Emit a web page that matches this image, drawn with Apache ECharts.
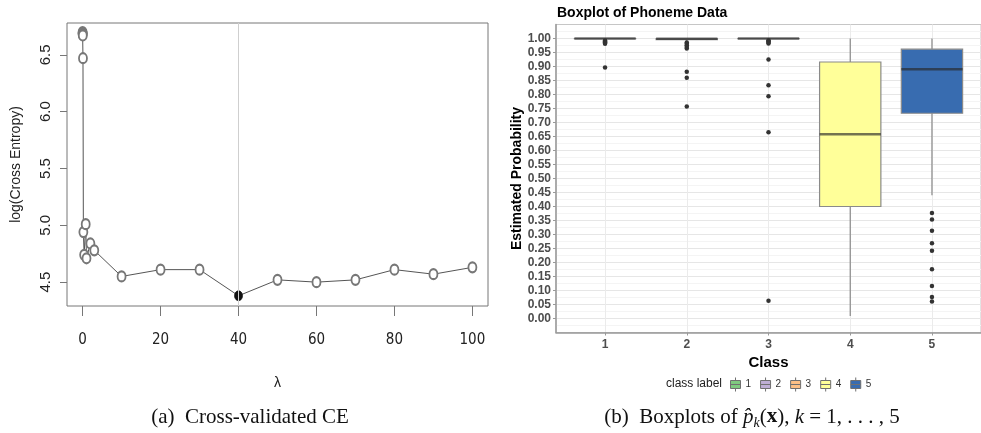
<!DOCTYPE html>
<html>
<head>
<meta charset="utf-8">
<script src="https://cdn.jsdelivr.net/npm/echarts@6/dist/echarts.min.js"></script>
<style>
  html, body { margin: 0; padding: 0; background: #fff; }
  #chart { width: 981px; height: 433px; }
</style>
</head>
<body>
<div id="chart"></div>
<script>
// (a) cross-validated cross entropy against lambda
const lambdaVals = [0, 0.001, 0.005, 0.01, 0.05, 0.1, 0.2, 0.4, 0.8, 1, 2, 3, 10, 20, 30, 40, 50, 60, 70, 80, 90, 100]
const ceVals = [6.70, 6.69, 6.69, 6.68, 6.67, 6.47, 4.94, 4.74, 5.01, 4.71, 4.84, 4.78, 4.55, 4.61, 4.61, 4.38, 4.52, 4.50, 4.52, 4.61, 4.57, 4.63]
const lambdaTicks = [0, 20, 40, 60, 80, 100]
const ceTicks = [4.5, 5.0, 5.5, 6.0, 6.5]

// (b) boxplots of estimated probability per class
const classes = [1, 2, 3, 4, 5]
const classNames = ['1', '2', '3', '4', '5']
const classColors = ['#7FC97F', '#BEAED4', '#FDC086', '#FFFF99', '#386CB0']
const whiskerLow = [0.997, 0.990, 0.998, 0.009, 0.440]
const q1Vals = [0.9995, 0.996, 0.9995, 0.400, 0.733]
const medianVals = [1.000, 0.999, 1.000, 0.658, 0.890]
const q3Vals = [1.000, 1.000, 1.000, 0.916, 0.962]
const whiskerHigh = [1.000, 1.000, 1.000, 1.000, 1.000]
const outliers = [
  [0.993, 0.990, 0.987, 0.984, 0.981, 0.896],
  [0.986, 0.981, 0.976, 0.970, 0.964, 0.881, 0.860, 0.757],
  [0.994, 0.990, 0.986, 0.982, 0.925, 0.833, 0.794, 0.665, 0.063],
  [],
  [0.377, 0.354, 0.313, 0.269, 0.242, 0.176, 0.116, 0.077, 0.061]
]
const probTicks = [0, 0.05, 0.10, 0.15, 0.20, 0.25, 0.30, 0.35, 0.40, 0.45, 0.50,
  0.55, 0.60, 0.65, 0.70, 0.75, 0.80, 0.85, 0.90, 0.95, 1.00]

const chart = echarts.init(document.getElementById('chart'))

const sans = 'Liberation Sans, Arial, sans-serif'
const serif = 'Liberation Serif, Times New Roman, serif'

const minIdx = ceVals.indexOf(Math.min(...ceVals))
const ceData = lambdaVals.map((l, i) => {
  if (i === minIdx) {
    return { value: [l, ceVals[i]], symbol: 'circle', itemStyle: { color: '#111', borderColor: '#111' } }
  }
  return [l, ceVals[i]]
})

const boxData = classes.map((c, i) => [c, whiskerLow[i], q1Vals[i], medianVals[i], q3Vals[i], whiskerHigh[i]])
const outlierData = []
outliers.forEach((list, i) => {
  list.forEach(v => outlierData.push([classes[i], v]))
})

const boxIcon = 'path://M5,0L5,3M0,3L10,3L10,11L0,11ZM0,7L10,7M5,11L5,14'

const option = {
  animation: false,
  backgroundColor: '#fff',
  grid: [
    { left: 67, top: 23, width: 421, height: 283, show: true, borderColor: '#777', borderWidth: 1 },
    { left: 556, top: 24.5, width: 434, height: 308, show: true, borderColor: '#c6c6c6', borderWidth: 1 }
  ],
  xAxis: [
    {
      type: 'value', gridIndex: 0, min: -4, max: 104,
      axisLine: { show: false, onZero: false },
      axisTick: { show: true, length: 10, customValues: lambdaTicks, lineStyle: { color: '#777' } },
      axisLabel: { customValues: lambdaTicks, margin: 27, fontFamily: 'Liberation Sans Narrow, DejaVu Sans Condensed, ' + sans, fontSize: 15, color: '#222' },
      splitLine: { show: false },
      name: 'λ', nameLocation: 'middle', nameGap: 70,
      nameTextStyle: { fontFamily: sans, fontSize: 14, color: '#222' }
    },
    {
      type: 'value', gridIndex: 1, min: 0.4, max: 5.6,
      axisLine: { show: true, onZero: false, lineStyle: { color: '#999', width: 1.5 } },
      axisTick: { show: true, length: 3, customValues: classes, lineStyle: { color: '#999' } },
      axisLabel: { customValues: classes, margin: 6, fontFamily: sans, fontSize: 12, fontWeight: 'bold', color: '#4d4d4d' },
      splitLine: { show: true, lineStyle: { color: '#ebebeb', width: 1 } },
      name: 'Class', nameLocation: 'middle', nameGap: 13,
      nameTextStyle: { fontFamily: sans, fontSize: 15, fontWeight: 'bold', color: '#000' }
    }
  ],
  yAxis: [
    {
      type: 'value', gridIndex: 0, min: 4.29, max: 6.78,
      axisLine: { show: false, onZero: false },
      axisTick: { show: true, length: 7, customValues: ceTicks, lineStyle: { color: '#777' } },
      axisLabel: { customValues: ceTicks, rotate: 90, margin: 14, fontFamily: sans, fontSize: 15, color: '#222',
        formatter: v => v.toFixed(1) },
      splitLine: { show: false },
      name: 'log(Cross Entropy)', nameLocation: 'middle', nameGap: 44,
      nameTextStyle: { fontFamily: sans, fontSize: 14, color: '#222' }
    },
    {
      type: 'value', gridIndex: 1, min: -0.05, max: 1.05, interval: 0.05,
      axisLine: { show: true, onZero: false, lineStyle: { color: '#999', width: 1.5 } },
      axisTick: { show: true, length: 3, customValues: probTicks, lineStyle: { color: '#999' } },
      axisLabel: { customValues: probTicks, margin: 5, fontFamily: sans, fontSize: 12, fontWeight: 'bold', color: '#4d4d4d',
        formatter: v => v.toFixed(2) },
      splitLine: { show: true, lineStyle: { color: '#e6e6e6', width: 1 } },
      minorTick: { show: false, splitNumber: 2 },
      minorSplitLine: { show: true, lineStyle: { color: '#f4f4f4', width: 1 } },
      name: 'Estimated Probability', nameLocation: 'middle', nameGap: 28,
      nameTextStyle: { fontFamily: sans, fontSize: 14, fontWeight: 'bold', color: '#000' }
    }
  ],
  legend: {
    data: classNames.map(n => ({ name: n, icon: boxIcon })),
    left: 730, top: 377, padding: 0,
    itemWidth: 10, itemHeight: 14, itemGap: 9,
    itemStyle: { borderColor: '#707070', borderWidth: 1, opacity: 1 },
    textStyle: { fontFamily: sans, fontSize: 10, color: '#333' },
    selectedMode: false
  },
  graphic: [
    { type: 'text', left: 557, top: 6, style: { text: 'Boxplot of Phoneme Data', font: 'bold 14px ' + sans, fill: '#000' } },
    { type: 'text', x: 722, y: 384, style: { text: 'class label', font: '12px ' + sans, fill: '#222', textAlign: 'right', textVerticalAlign: 'middle' } },
    { type: 'text', x: 250, y: 417, style: { text: '(a)  Cross-validated CE', font: '21px ' + serif, fill: '#111', textAlign: 'center', textVerticalAlign: 'middle' } },
    {
      type: 'text', x: 752, y: 417,
      style: {
        text: '{n|(b)  Boxplots of }{i|p̂}{s|k}{n|(}{b|x}{n|), }{i|k}{n| = 1, . . . , 5}',
        textAlign: 'center', textVerticalAlign: 'middle', fill: '#111',
        rich: {
          n: { fontFamily: serif, fontSize: 21, lineHeight: 26, fill: '#111' },
          i: { fontFamily: serif, fontSize: 21, lineHeight: 26, fontStyle: 'italic', fill: '#111' },
          b: { fontFamily: serif, fontSize: 21, lineHeight: 26, fontWeight: 'bold', fill: '#111' },
          s: { fontFamily: serif, fontSize: 14, lineHeight: 14, fontStyle: 'italic', verticalAlign: 'bottom', fill: '#111' }
        }
      }
    }
  ],
  series: [
    {
      type: 'line', xAxisIndex: 0, yAxisIndex: 0,
      data: ceData,
      symbol: 'emptyCircle', symbolSize: [8, 10],
      lineStyle: { color: '#555', width: 1 },
      itemStyle: { color: '#777', borderColor: '#777', borderWidth: 0.7 },
      markLine: {
        silent: true, symbol: 'none', label: { show: false },
        lineStyle: { color: '#cfcfcf', type: 'solid', width: 1 },
        data: [{ xAxis: lambdaVals[minIdx] }]
      },
      z: 3
    },
    {
      type: 'custom', xAxisIndex: 1, yAxisIndex: 1,
      data: boxData,
      encode: { x: 0, y: [1, 2, 3, 4, 5] },
      renderItem: (params, api) => {
        const x = api.value(0)
        const lo = api.coord([x, api.value(1)])
        const q1 = api.coord([x, api.value(2)])
        const md = api.coord([x, api.value(3)])
        const q3 = api.coord([x, api.value(4)])
        const hi = api.coord([x, api.value(5)])
        const w = api.size([0.75, 0])[0]
        return {
          type: 'group',
          children: [
            { type: 'line', shape: { x1: lo[0], y1: lo[1], x2: q1[0], y2: q1[1] }, style: { stroke: '#888', lineWidth: 1.2 } },
            { type: 'line', shape: { x1: q3[0], y1: q3[1], x2: hi[0], y2: hi[1] }, style: { stroke: '#888', lineWidth: 1.2 } },
            { type: 'rect', shape: { x: q3[0] - w / 2, y: q3[1], width: w, height: q1[1] - q3[1] },
              style: { fill: classColors[params.dataIndex], stroke: '#8a8a8a', lineWidth: 1.2 } },
            { type: 'line', shape: { x1: md[0] - w / 2, y1: md[1], x2: md[0] + w / 2, y2: md[1] },
              style: { stroke: 'rgba(40,40,40,0.65)', lineWidth: 2.6 } }
          ]
        }
      },
      z: 3
    },
    {
      type: 'scatter', xAxisIndex: 1, yAxisIndex: 1,
      data: outlierData, symbol: 'circle', symbolSize: 4.5,
      itemStyle: { color: '#333', opacity: 1 }, z: 4
    },
    ...classNames.map((n, i) => ({
      type: 'scatter', name: n, xAxisIndex: 1, yAxisIndex: 1, data: [],
      itemStyle: { color: classColors[i], opacity: 1 }
    }))
  ]
}

chart.setOption(option)
</script>
</body>
</html>
